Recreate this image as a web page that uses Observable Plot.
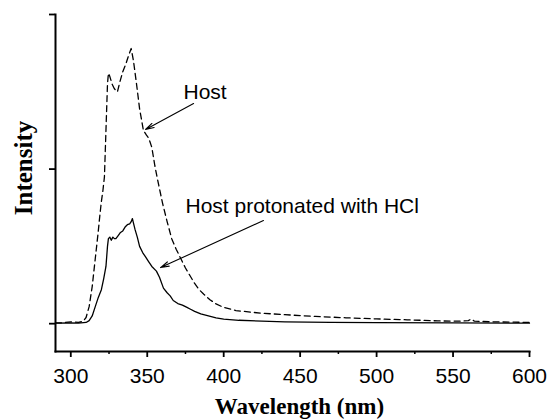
<!DOCTYPE html>
<html>
<head>
<meta charset="utf-8">
<script src="https://cdn.jsdelivr.net/npm/d3@7"></script>
<script src="https://cdn.jsdelivr.net/npm/@observablehq/plot@0.6"></script>
<style>
  html, body { margin: 0; padding: 0; background: #fff; }
  #chart svg { display: block; }
</style>
</head>
<body>
<div id="chart"></div>
<script>
// Host (dashed)
const hostWavelength = [290, 295, 300, 305, 308, 310, 312, 314, 316, 318, 319, 320, 321, 322, 323, 324, 324.6, 325.5, 327, 328.5, 330.5, 332, 334, 336, 338, 339.5, 341, 343, 345, 347.5, 349.5, 351, 353, 355, 357, 360, 363, 366, 369, 372, 375, 378, 381, 384, 387, 391, 395, 400, 408, 418, 426, 440, 460, 480, 500, 520, 540, 555, 560, 562, 564, 575, 590, 600];
const hostIntensity  = [0.005, 0.006, 0.012, 0.008, 0.015, 0.04, 0.11, 0.24, 0.42, 0.6, 0.7, 0.79, 0.86, 0.95, 1.25, 1.55, 1.62, 1.6, 1.55, 1.52, 1.5, 1.56, 1.63, 1.68, 1.74, 1.78, 1.7, 1.55, 1.39, 1.25, 1.22, 1.2, 1.14, 1.02, 0.92, 0.78, 0.66, 0.55, 0.48, 0.42, 0.36, 0.31, 0.26, 0.22, 0.19, 0.155, 0.128, 0.105, 0.085, 0.074, 0.067, 0.058, 0.047, 0.038, 0.031, 0.025, 0.018, 0.016, 0.02, 0.03, 0.016, 0.012, 0.01, 0.008];

// Host protonated with HCl (solid)
const hclWavelength = [290, 300, 305, 310, 312, 314, 316, 318, 320, 321.5, 323, 324, 324.6, 325.5, 326.5, 327.5, 328.5, 329.5, 331, 332.5, 334, 335.5, 337, 338.5, 339.5, 340.3, 341, 342, 343.5, 345, 347, 349, 351, 353, 356, 358, 360.6, 363, 365, 367, 370, 373, 376, 378, 381, 385, 390, 395, 400, 410, 425, 440, 470, 500, 550, 600];
const hclIntensity  = [0.003, 0.005, 0.004, 0.008, 0.02, 0.05, 0.11, 0.17, 0.22, 0.29, 0.37, 0.5, 0.55, 0.56, 0.54, 0.56, 0.55, 0.55, 0.57, 0.59, 0.6, 0.625, 0.64, 0.645, 0.66, 0.68, 0.65, 0.61, 0.56, 0.5, 0.46, 0.43, 0.4, 0.37, 0.34, 0.3, 0.23, 0.2, 0.18, 0.15, 0.13, 0.12, 0.105, 0.095, 0.08, 0.063, 0.05, 0.038, 0.03, 0.022, 0.016, 0.012, 0.009, 0.007, 0.005, 0.003];

const xTicks = [300, 350, 400, 450, 500, 550, 600];
const xMinorTicks = [325, 375, 425, 475, 525, 575];
const yTicks = [0, 1, 2];

const xLabel = "Wavelength (nm)";
const yLabel = "Intensity";

// annotation labels and arrows (data space)
const labelText = ["Host", "Host protonated with HCl"];
const labelX = [373.7, 375.0];
const labelY = [1.497, 0.761];
const arrowX1 = [380.3, 426.0];
const arrowY1 = [1.424, 0.667];
const arrowX2 = [348.9, 358.7];
const arrowY2 = [1.256, 0.363];

const host = hostWavelength.map((w, i) => ({w, v: hostIntensity[i]}));
const hcl = hclWavelength.map((w, i) => ({w, v: hclIntensity[i]}));
const labels = labelText.map((t, i) => ({t, x: labelX[i], y: labelY[i]}));
const arrows = arrowX1.map((x1, i) => ({x1, y1: arrowY1[i], x2: arrowX2[i], y2: arrowY2[i]}));

const sans = "'Liberation Sans', Arial, sans-serif";
const serif = "'Liberation Serif', 'Times New Roman', serif";

const chart = Plot.plot({
  width: 547,
  height: 420,
  marginLeft: 55,
  marginRight: 18,
  marginTop: 14,
  marginBottom: 69,
  style: {background: "#fff", color: "#000"},
  x: {domain: [290, 600]},
  y: {domain: [-0.18, 2.0]},
  marks: [
    Plot.axisX({ticks: xMinorTicks, tickSize: 3, text: null, strokeWidth: 1.5, label: null}),
    Plot.axisX({ticks: xTicks, tickSize: 6, tickPadding: 11, strokeWidth: 1.8, fontSize: 21, fontFamily: sans, label: null}),
    Plot.axisY({ticks: yTicks, tickSize: 6, text: null, strokeWidth: 1.8, label: null}),
    Plot.frame({anchor: "left", strokeWidth: 2}),
    Plot.frame({anchor: "bottom", strokeWidth: 2}),
    Plot.line(host, {x: "w", y: "v", stroke: "#000", strokeWidth: 1.3, strokeDasharray: "6,4", curve: "linear"}),
    Plot.line(hcl, {x: "w", y: "v", stroke: "#000", strokeWidth: 1.3, curve: "linear"}),
    Plot.arrow(arrows, {x1: "x1", y1: "y1", x2: "x2", y2: "y2", stroke: "#000", strokeWidth: 1.1, headLength: 12, headAngle: 30}),
    Plot.text(labels, {x: "x", y: "y", text: "t", textAnchor: "start", lineAnchor: "middle", fontSize: 21, fontFamily: sans, fill: "#000"}),
    Plot.text([xLabel], {frameAnchor: "bottom", lineAnchor: "top", dy: 46, dx: 7, fontSize: 23, fontWeight: "bold", fontFamily: serif, fill: "#000"}),
    Plot.text([yLabel], {frameAnchor: "left", rotate: -90, textAnchor: "middle", lineAnchor: "middle", dx: -32, dy: -15, fontSize: 25, fontWeight: "bold", fontFamily: serif, fill: "#000"})
  ]
});
document.getElementById("chart").appendChild(chart);
</script>
</body>
</html>
